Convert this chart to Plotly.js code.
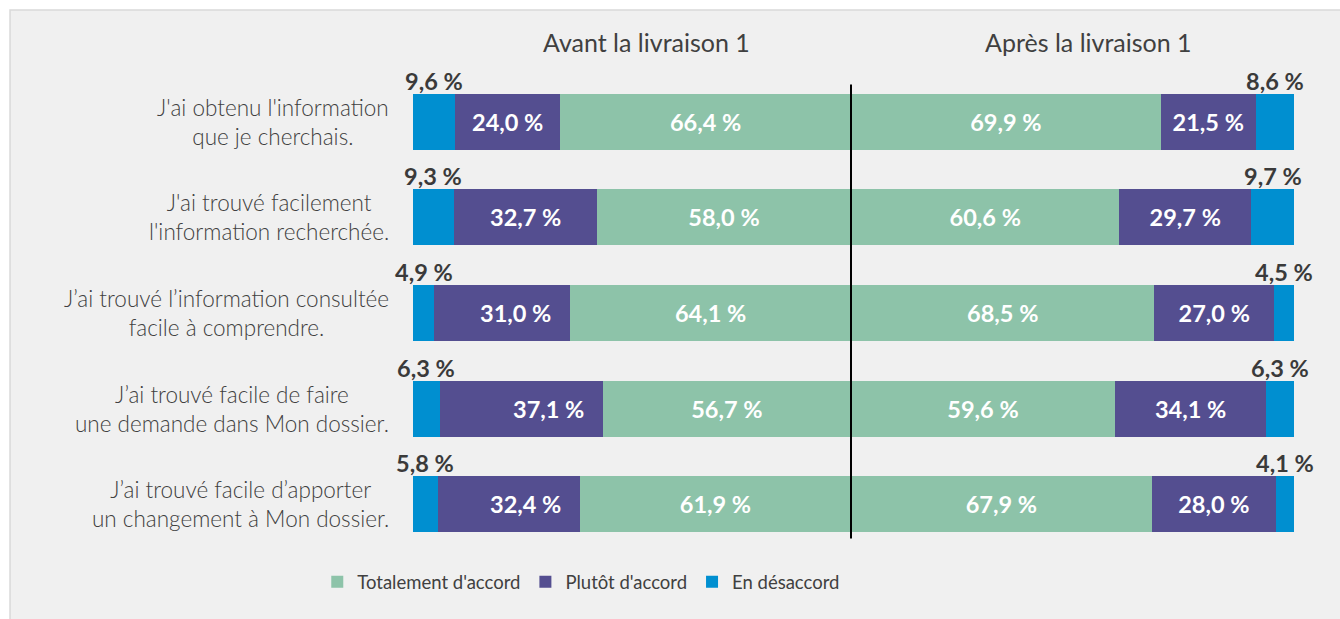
<!DOCTYPE html>
<html>
<head>
<meta charset="utf-8">
<script src="https://cdn.plot.ly/plotly-3.0.1.min.js"></script>
<style>
  html, body { margin: 0; padding: 0; background: #ffffff; }
  #chart { width: 1340px; height: 619px; }
</style>
</head>
<body>
<div id="chart"></div>
<script>
// ---- Data ----
const categories = [
  "J'ai obtenu l'information<br>que je cherchais.",
  "J'ai trouvé facilement<br>l'information recherchée.",
  "J’ai trouvé l’information consultée<br>facile à comprendre.",
  "J’ai trouvé facile de faire<br>une demande dans Mon dossier.",
  "J’ai trouvé facile d’apporter<br>un changement à Mon dossier."
];
const seriesNames = ["Totalement d'accord", "Plutôt d'accord", "En désaccord"];
const panelTitles = ["Avant la livraison 1", "Après la livraison 1"];

const avantTotal     = [66.4, 58.0, 64.1, 56.7, 61.9];
const avantPlutot    = [24.0, 32.7, 31.0, 37.1, 32.4];
const avantDesaccord = [9.6, 9.3, 4.9, 6.3, 5.8];

const apresTotal     = [69.9, 60.6, 68.5, 59.6, 67.9];
const apresPlutot    = [21.5, 29.7, 27.0, 34.1, 28.0];
const apresDesaccord = [8.6, 9.7, 4.5, 6.3, 4.1];

// ---- Styles ----
const colors = ["#8dc3a9", "#544e90", "#008fd0"];
const FONT = "Lato, 'Open Sans', sans-serif";
const textGray = "#404040";
const rows = categories.map((_, i) => i);
const fmt = v => v.toFixed(1).replace('.', ',') + '\u00a0%';
const BAR_FRAC = 0.586;
const split = 438 / 881;

const inFont = { family: FONT, size: 23.5, color: "#ffffff", weight: "bold" };
const outFont = { family: FONT, size: 23.5, color: "#3a3a3a", weight: "bold" };

function barTrace(vals, idx, xa, showText, showLegend) {
  return {
    type: "bar", orientation: "h",
    x: vals, y: rows,
    xaxis: xa, yaxis: "y",
    name: seriesNames[idx],
    legendgroup: seriesNames[idx],
    showlegend: showLegend,
    marker: { color: colors[idx], line: { width: 0 } },
    text: showText ? vals.map(fmt) : vals.map(() => ""),
    textposition: "inside",
    insidetextanchor: "middle",
    constraintext: "none",
    textfont: inFont,
    hoverinfo: "skip"
  };
}

const traces = [
  barTrace(avantTotal, 0, "x", true, true),
  barTrace(avantPlutot, 1, "x", false, true),
  barTrace(avantDesaccord, 2, "x", false, true),
  barTrace(apresTotal, 0, "x2", true, false),
  barTrace(apresPlutot, 1, "x2", true, false),
  barTrace(apresDesaccord, 2, "x2", false, false)
];

const annotations = [];
// category labels
categories.forEach((c, i) => {
  annotations.push({
    xref: "paper", yref: "y", x: 0, y: i, xshift: -22,
    xanchor: "right", yanchor: "middle", align: "center",
    text: c, showarrow: false,
    font: { family: FONT, size: 22.5, color: textGray, weight: 300 }
  });
});
// panel titles
panelTitles.forEach((t, k) => {
  annotations.push({
    xref: "paper", yref: "paper", x: k === 0 ? 0.2656 : 0.7662, y: 1.066,
    xanchor: "center", yanchor: "middle",
    text: t, showarrow: false,
    font: { family: FONT, size: 25, color: textGray }
  });
});
// left "Plutôt" labels (centered for first two rows, near inner edge for others)
avantPlutot.forEach((v, i) => {
  const centered = i < 2;
  annotations.push({
    xref: "x", yref: "y",
    x: centered ? avantTotal[i] + v / 2 : avantTotal[i],
    y: i, xshift: centered ? 0 : -17,
    xanchor: centered ? "center" : "right", yanchor: "middle",
    text: fmt(v), showarrow: false, font: inFont
  });
});
// "En désaccord" labels above the bars
avantDesaccord.forEach((v, i) => {
  annotations.push({
    xref: "x", yref: "y",
    x: avantTotal[i] + avantPlutot[i] + v / 2, y: i - BAR_FRAC / 2,
    xanchor: "center", yanchor: "bottom", yshift: -3,
    text: fmt(v), showarrow: false, font: outFont
  });
});
apresDesaccord.forEach((v, i) => {
  annotations.push({
    xref: "x2", yref: "y",
    x: apresTotal[i] + apresPlutot[i] + v / 2, y: i - BAR_FRAC / 2,
    xanchor: "center", yanchor: "bottom", yshift: -3,
    text: fmt(v), showarrow: false, font: outFont
  });
});

const layout = {
  width: 1340, height: 619,
  margin: { l: 413, r: 46, t: 74, b: 67 },
  paper_bgcolor: "#ffffff",
  plot_bgcolor: "rgba(0,0,0,0)",
  barmode: "stack",
  bargap: 1 - BAR_FRAC,
  showlegend: true,
  legend: {
    orientation: "h", x: 0.191, xanchor: "center", y: -0.063, yanchor: "middle",
    font: { family: FONT, size: 18.5, color: textGray },
    bgcolor: "rgba(0,0,0,0)", itemwidth: 30, traceorder: "normal"
  },
  xaxis: {
    domain: [0, split], range: [100, 0],
    showgrid: false, zeroline: false, showticklabels: false, ticks: "", showline: false, fixedrange: true
  },
  xaxis2: {
    domain: [split, 1], range: [0, 100],
    showgrid: false, zeroline: false, showticklabels: false, ticks: "", showline: false, fixedrange: true
  },
  yaxis: {
    range: [4.5, -0.5], showgrid: false, zeroline: false, showticklabels: false, ticks: "", showline: false, fixedrange: true
  },
  shapes: [
    {
      type: "rect", xref: "paper", yref: "paper", layer: "below",
      x0: -0.4574, x1: 1.2, y0: -0.3, y1: 1.1339,
      fillcolor: "#f0f0f0", line: { color: "#d9d9d9", width: 1.5 }
    },
    {
      type: "line", xref: "paper", yref: "y", layer: "above",
      x0: split, x1: split, y0: -0.39, y1: 4.36,
      line: { color: "#000000", width: 2 }
    }
  ],
  annotations: annotations,
  font: { family: FONT, color: textGray }
};

Plotly.newPlot("chart", traces, layout, { displayModeBar: false, staticPlot: true });
</script>
</body>
</html>
